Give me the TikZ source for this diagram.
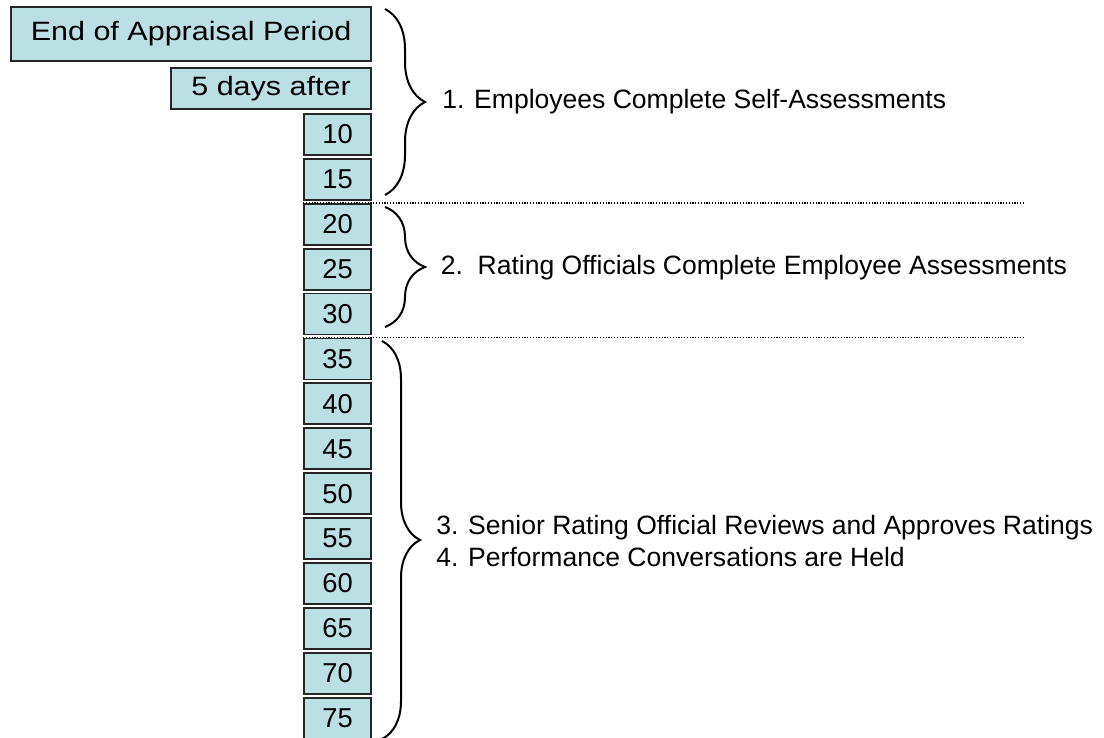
\documentclass[tikz,border=0pt]{standalone}
\usepackage{fontspec}
\setmainfont{Liberation Sans}
\newfontfamily\widefont[FakeStretch=1.15]{Liberation Sans}
\usetikzlibrary{decorations.pathreplacing,positioning}
\definecolor{dayfill}{RGB}{187,224,228}

\tikzset{
    daybox/.style={draw=black!85,line width=1.4pt,fill=dayfill,inner sep=0pt,anchor=north east,
        minimum height=30.75pt,font=\fontsize{20.5}{24}\selectfont},
    widebox/.style={daybox,font=\widefont\fontsize{19.9}{24}\selectfont},
    phase/.style={inner sep=0pt,anchor=base west,font=\fontsize{19.9}{24}\selectfont},
    phasebrace/.style={draw,line width=1.5pt,decorate,decoration={brace,amplitude=#1}},
    cutline/.style={line width=1.3pt,dash pattern=on 1pt off 1.1pt}
}

\begin{document}
\begin{tikzpicture}[x=0.75pt,y=-0.75pt]
    \useasboundingbox (0,0) rectangle (1104,738);

    \node[widebox,minimum width=270pt,minimum height=40.5pt] (end) at (372,6) {End of Appraisal Period};
    \node[widebox,minimum width=150pt] (five) at (372,67) {5 days after};
    \foreach \d [count=\i from 0] in {10,15,...,75}
        \node[daybox,minimum width=50.25pt] (d\d) at (372,113+44.9*\i) {\d};

    \coordinate (cut) at (1025,0);
    \draw[cutline] (d20.north west) -- (d20.north west -| cut);
    \draw[cutline] (d35.north west) -- (d35.north west -| cut);

    \draw[phasebrace=30pt] (385,9) -- (385,195);
    \draw[phasebrace=30pt] (385,207) -- (385,327);
    \draw[phasebrace=28.5pt] (382,341) -- (382,739);

    \node[phase] (step1) at (442,109) {1. Employees Complete Self-Assessments};
    \node[phase] (step2) at (440.5,275) {2.\ \ Rating Officials Complete Employee Assessments};
    \node[phase] (step3) at (436,534) {3. Senior Rating Official Reviews and Approves Ratings};
    \node[phase] (step4) at (436,566) {4. Performance Conversations are Held};
\end{tikzpicture}
\end{document}
